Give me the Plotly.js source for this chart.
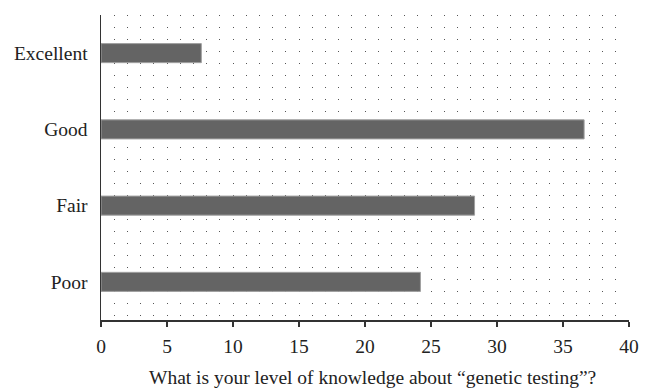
<!DOCTYPE html>
<html>
<head>
<meta charset="utf-8">
<script src="https://cdn.plot.ly/plotly-3.0.1.min.js"></script>
<style>
html,body{margin:0;padding:0;background:#fff;}
#chart{width:651px;height:391px;}
</style>
</head>
<body>
<div id="chart"></div>
<script>
const categories = ['Excellent', 'Good', 'Fair', 'Poor'];
const values = [7.6, 36.6, 28.3, 24.2];
const xTickVals = [0, 5, 10, 15, 20, 25, 30, 35, 40];
const xTitle = 'What is your level of knowledge about \u201cgenetic testing\u201d?';

const font = {family: '"Liberation Serif", "DejaVu Serif", serif', size: 19.5, color: '#222'};
const dotDash = '1px,11px';

const trace = {
  type: 'bar',
  orientation: 'h',
  x: values,
  y: categories,
  marker: {color: '#646464', line: {color: '#a0a0a0', width: 1}},
  hoverinfo: 'none'
};

const layout = {
  width: 651,
  height: 391,
  margin: {l: 101, r: 22, t: 15, b: 71},
  paper_bgcolor: '#fff',
  plot_bgcolor: '#fff',
  font: font,
  showlegend: false,
  bargap: 0.75,
  xaxis: {
    range: [0, 40],
    tickmode: 'array',
    tickvals: xTickVals,
    ticktext: xTickVals.map(String),
    ticks: 'outside',
    ticklen: 5,
    tickwidth: 1.5,
    tickcolor: '#333',
    showline: true,
    linecolor: '#333',
    linewidth: 2,
    zeroline: false,
    showgrid: true,
    gridcolor: '#555',
    gridwidth: 1,
    griddash: dotDash,
    minor: {dtick: 1, showgrid: true, gridcolor: '#555', gridwidth: 1, griddash: dotDash, ticks: ''},
    tickfont: font,
    ticklabelstandoff: 3
  },
  yaxis: {
    type: 'category',
    autorange: 'reversed',
    showline: true,
    linecolor: '#333',
    linewidth: 1.5,
    ticks: '',
    showgrid: false,
    zeroline: false,
    tickfont: font,
    ticklabelstandoff: 8
  },
  annotations: [{
    text: xTitle,
    xref: 'paper', yref: 'paper',
    x: 0.514, y: -0.187,
    xanchor: 'center', yanchor: 'middle',
    showarrow: false,
    font: font
  }]
};

Plotly.newPlot('chart', [trace], layout, {staticPlot: true, displayModeBar: false});
</script>
</body>
</html>
